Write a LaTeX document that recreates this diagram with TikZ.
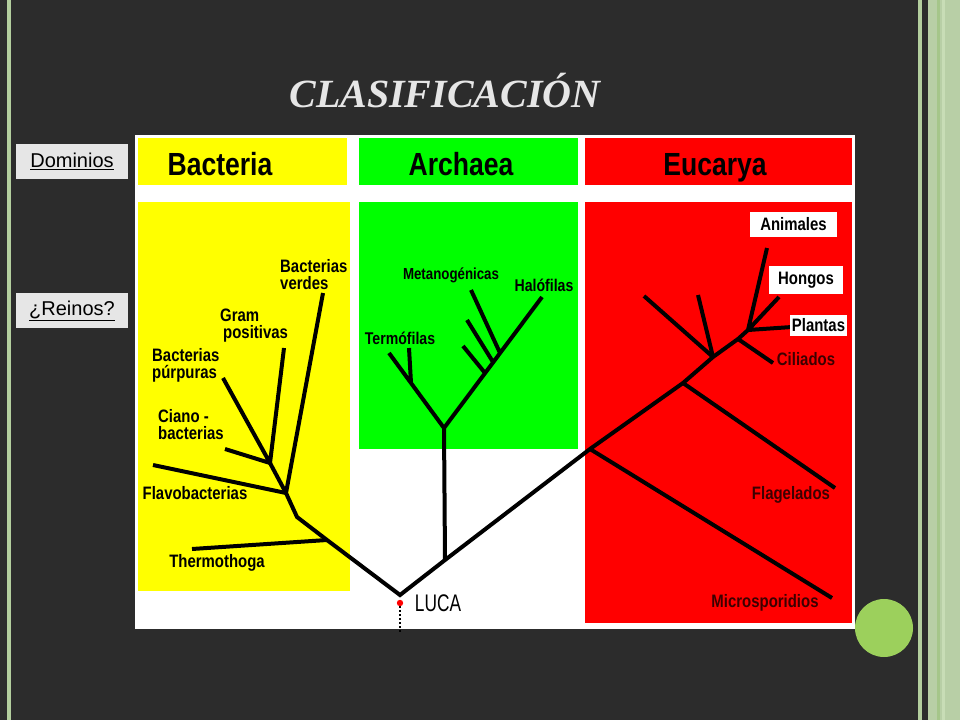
\documentclass[tikz,border=0pt]{standalone}
\usepackage{fontspec}
\setmainfont{Liberation Serif}
\setsansfont{Liberation Sans}
\newfontfamily\narrowfont[FakeStretch=0.83]{Liberation Sans}
\newfontfamily\lucafont[FakeStretch=0.72]{Liberation Sans}
\definecolor{slide}{HTML}{2C2C2C}
\definecolor{stripe}{HTML}{B3CE9E}
\definecolor{panelg}{HTML}{B8CFA6}
\definecolor{paneld}{HTML}{A5C68A}
\definecolor{panell}{HTML}{C8DDB6}
\definecolor{bact}{HTML}{FFFF00}
\definecolor{arch}{HTML}{00FF00}
\definecolor{euca}{HTML}{FF0000}
\definecolor{maroon}{HTML}{3C0000}
\definecolor{dot}{HTML}{9CD05C}
\definecolor{linkg}{HTML}{E6E6E6}
\begin{document}
\begin{tikzpicture}[x=1pt, y=-1pt,
    tree/.style={line width=4pt},
    head/.style={font=\narrowfont\bfseries\fontsize{32}{32}\selectfont, inner sep=0pt, anchor=base},
    lbl/.style={font=\narrowfont\bfseries\fontsize{18}{17}\selectfont, inner sep=0pt, align=left},
    small/.style={font=\narrowfont\bfseries\fontsize{16}{16}\selectfont, inner sep=0pt},
    tag/.style={lbl, fill=white, inner xsep=5pt, inner ysep=6pt},
    linkbox/.style={fill=linkg, font=\sffamily\fontsize{20}{20}\selectfont, minimum width=112pt, minimum height=35pt, inner sep=0pt}]
\fill[slide] (0,0) rectangle (960,720);
\fill[stripe] (7,0) rectangle (11,720);
\fill[stripe] (918,0) rectangle (922,720);
\fill[panelg] (928,0) rectangle (960,720);
\fill[paneld] (937,0) rectangle (940,720);
\fill[panell] (942,0) rectangle (945,720);

\node[font=\bfseries\itshape\fontsize{40}{40}\selectfont, text=linkg, anchor=base] (title) at (445,107) {CLASIFICACIÓN};
\node[linkbox] (dom) at (72,161.5) {\underline{Dominios}};
\node[linkbox] (rei) at (72,310.5) {\underline{¿Reinos?}};

% panels
\fill[white] (135,135) rectangle (855,629);
\fill[bact] (138,138) rectangle (347,185);
\fill[arch] (359,138) rectangle (578,185);
\fill[euca] (585,138) rectangle (852,185);
\fill[bact] (138,202) rectangle (350,591);
\fill[arch] (359,202) rectangle (578,449);
\fill[euca] (585,202) rectangle (852,623);
\node[head] (hb) at (220,175) {Bacteria};
\node[head] (ha) at (461,175) {Archaea};
\node[head] (he) at (715,175) {Eucarya};

% tree
\coordinate (luca) at (400,595);
\coordinate (b1) at (327,540); \coordinate (b2) at (297,517);
\coordinate (b3) at (286,493); \coordinate (b4) at (270,463);
\coordinate (a0) at (445,560); \coordinate (a1) at (444,428);
\coordinate (al) at (389,353); \coordinate (ar) at (542,297);
\coordinate (e1) at (590,449); \coordinate (e2) at (683,383);
\coordinate (e3) at (713,357); \coordinate (e4) at (738,339);
\coordinate (e5) at (748,330);
\draw[tree] (b4)--(b3)--(b2)--(b1)--(luca)--(a0)--(e1)--(e2)--(e3)--(e4)--(e5);
\draw[tree] (b1)--(192,549) (b3)--(153,465) (b3)--(323,293)
    (b4)--(284,348) (b4)--(223,378) (b4)--(225,449);
\draw[tree] (a0)--(a1) (al)--(a1)--(ar) (411,383)--(409,348)
    (500,353)--(471,290) (493,362)--(467,320) (485,373)--(463,346);
\draw[tree] (e1)--(832,598) (e2)--(835,488) (e3)--(644,296) (e3)--(698,295)
    (e4)--(773,363) (e5)--(767,248) (e5)--(779,297) (e5)--(792,327);
\draw[line width=2pt, dotted] (400,606)--(400,632);
\fill[euca] (400,603) circle (3.2);

% labels
\node[lbl, anchor=west] (verdes) at (280,275) {Bacterias\\verdes};
\node[lbl, anchor=west] (gram) at (220,326) {Gram\\\,positivas};
\node[lbl, anchor=west] (purp) at (152,365) {Bacterias\\púrpuras};
\node[lbl, anchor=west] (ciano) at (158,425) {Ciano -\\bacterias};
\node[lbl] (flavo) at (195,493) {Flavobacterias};
\node[lbl] (thermo) at (217,563) {Thermothoga};
\node[lbl, font=\narrowfont\bfseries\fontsize{17}{17}\selectfont] (termo) at (400,338) {Termófilas};
\node[small] (meta) at (451,275) {Metanogénicas};
\node[lbl, font=\narrowfont\bfseries\fontsize{17}{17}\selectfont] (halo) at (544,285) {Halófilas};
\node[font=\lucafont\fontsize{24}{24}\selectfont, inner sep=0pt] (lucal) at (438,603) {LUCA};
\node[tag, minimum width=87pt] (anim) at (793.5,224.5) {Animales};
\node[tag, minimum width=74pt] (hong) at (806,280) {Hongos};
\node[tag, inner xsep=2pt, inner ysep=4pt] (plan) at (818.5,325.5) {Plantas};
\node[lbl, text=maroon] (cili) at (806,359) {Ciliados};
\node[lbl, text=maroon] (flag) at (791,495) {Flagelados};
\node[lbl, text=maroon] (micro) at (765,603) {Microsporidios};

\fill[dot] (884,628) circle (29);
\end{tikzpicture}
\end{document}
